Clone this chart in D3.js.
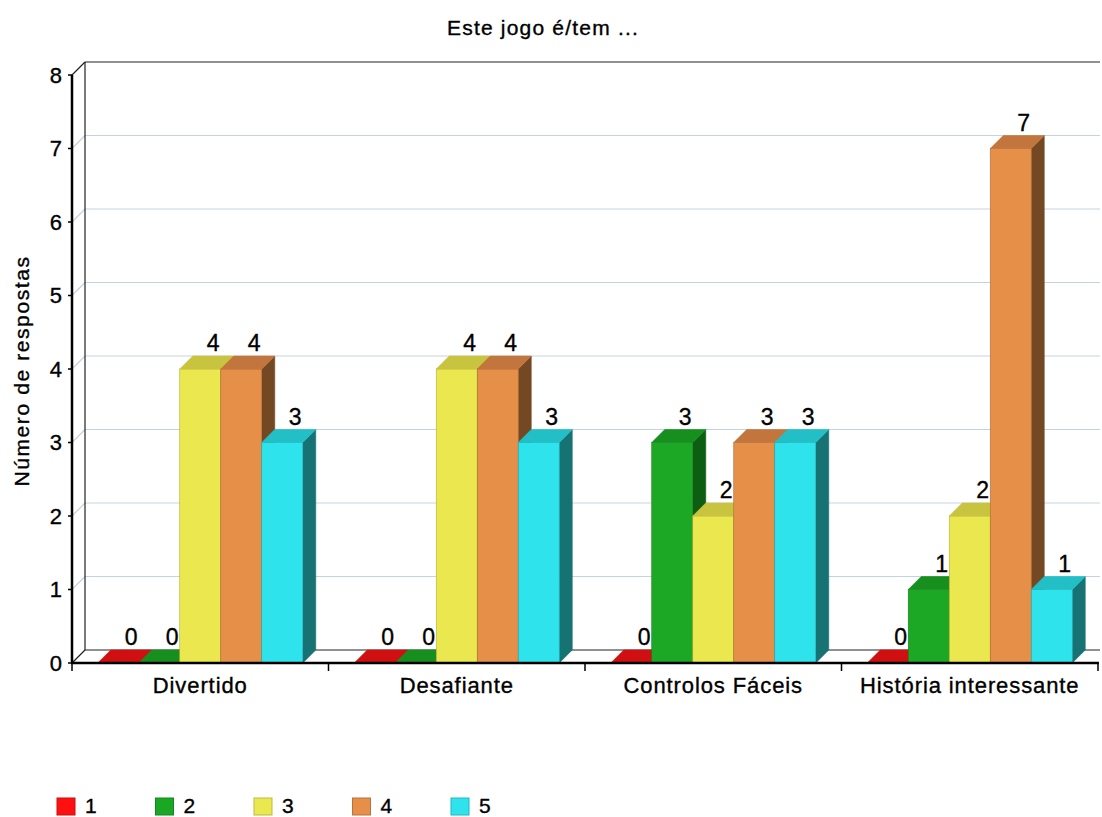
<!DOCTYPE html>
<html><head><meta charset="utf-8">
<script src="https://cdn.jsdelivr.net/npm/d3@7"></script>
<style>body{margin:0;background:#fff}svg{display:block;font-family:"Liberation Sans",Arial,sans-serif}
text{stroke:#000;stroke-width:0.35px}</style>
</head><body>
<svg id="c" width="1102" height="817"></svg>
<script>
const title = "Este jogo é/tem ...";
const yTitle = "Número de respostas";
const categories = ["Divertido", "Desafiante", "Controlos Fáceis", "História interessante"];
const series = ["1", "2", "3", "4", "5"];
const values1 = [0, 0, 0, 0];
const values2 = [0, 0, 3, 1];
const values3 = [4, 4, 2, 2];
const values4 = [4, 4, 3, 7];
const values5 = [3, 3, 3, 1];
const yTicks = [0, 1, 2, 3, 4, 5, 6, 7, 8];
const frontColors = ["#e01212", "#1ca824", "#ebe84f", "#e58f48", "#2ee3eb"];
const topColors = ["#d01010", "#178f1f", "#c9c440", "#c2753c", "#22bfc7"];
const sideColors = ["#8a0a0a", "#0d5e12", "#8d8a2a", "#754824", "#177274"];
const legendColors = ["#ff1010", "#1aa824", "#ebe84f", "#e58f48", "#2ee3eb"];

const allValues = [values1, values2, values3, values4, values5];
const svg = d3.select("#c");
const D = 13;
const y = d3.scaleLinear().domain([0, 8]).range([663, 75]);
const x = d3.scaleBand().domain(categories).range([72, 1098]);
const right = 1100;

svg.append("text").attr("x", 543).attr("y", 35).attr("text-anchor", "middle")
  .attr("font-size", 21).attr("letter-spacing", 1.2).text(title);

yTicks.filter(v => v > 0 && v < 8).forEach(v => {
  svg.append("line").attr("x1", 85).attr("x2", right).attr("y1", y(v) - D).attr("y2", y(v) - D)
    .attr("stroke", "#c5d3e0").attr("stroke-width", 1.2);
  svg.append("line").attr("x1", 72).attr("x2", 85).attr("y1", y(v)).attr("y2", y(v) - D)
    .attr("stroke", "#c5d3e0").attr("stroke-width", 1.2);
});
const frame = [
  [85, y(8) - D, right, y(8) - D],
  [72, y(8), 85, y(8) - D],
  [85, y(8) - D, 85, y(0) - D],
  [85, y(0) - D, right, y(0) - D],
  [72, y(0), 85, y(0) - D]
];
frame.forEach(f => svg.append("line").attr("x1", f[0]).attr("y1", f[1]).attr("x2", f[2]).attr("y2", f[3])
  .attr("stroke", "#222").attr("stroke-width", 1.2));

const inner = d3.scaleBand().domain(series).range([0, 205]);
categories.forEach((cat, ci) => {
  const cx = x(cat) + x.bandwidth() / 2;
  const g = svg.append("g");
  series.forEach((s, si) => {
    const v = allValues[si][ci];
    const bx = cx - 102.5 + inner(s);
    const w = inner.bandwidth();
    const y0 = y(0), yv = y(v);
    g.append("polygon").attr("points", [[bx + w, yv], [bx + w + D, yv - D], [bx + w + D, y0 - D], [bx + w, y0]].join(" "))
      .attr("fill", sideColors[si]).attr("stroke", sideColors[si]).attr("stroke-width", 0.6);
    if (v > 0) g.append("rect").attr("x", bx).attr("y", yv).attr("width", w).attr("height", y0 - yv)
      .attr("fill", frontColors[si]).attr("stroke", d3.color(frontColors[si]).darker(0.8)).attr("stroke-width", 0.6);
    g.append("polygon").attr("points", [[bx, yv], [bx + D, yv - D], [bx + w + D, yv - D], [bx + w, yv]].join(" "))
      .attr("fill", topColors[si]).attr("stroke", topColors[si]).attr("stroke-width", 0.6);
    const lx = bx + w / 2 + D, ly = yv - D - 5;
    g.append("rect").attr("x", lx - 11).attr("y", ly - 19).attr("width", 22).attr("height", 23).attr("fill", "#fff");
    g.append("text").attr("x", lx).attr("y", ly).attr("text-anchor", "middle").attr("font-size", 23)
      .attr("fill", "#000").text(v);
  });
});

svg.append("line").attr("x1", 72).attr("x2", 72).attr("y1", y(8)).attr("y2", y(0)).attr("stroke", "#000").attr("stroke-width", 2.5);
svg.append("line").attr("x1", 71).attr("x2", 1099).attr("y1", y(0)).attr("y2", y(0)).attr("stroke", "#000").attr("stroke-width", 2.5);
yTicks.forEach(v => {
  svg.append("line").attr("x1", 68).attr("x2", 72).attr("y1", y(v)).attr("y2", y(v)).attr("stroke", "#000").attr("stroke-width", 1.5);
  svg.append("text").attr("x", 62).attr("y", y(v)).attr("dy", "0.36em").attr("text-anchor", "end")
    .attr("font-size", 22).text(v);
});
const catTicks = categories.map(c => x(c)).concat([x.range()[1]]);
catTicks.forEach(t => svg.append("line").attr("x1", t).attr("x2", t).attr("y1", y(0)).attr("y2", y(0) + 8)
  .attr("stroke", "#000").attr("stroke-width", 1.5));
categories.forEach(c => svg.append("text").attr("x", x(c) + x.bandwidth() / 2).attr("y", 693)
  .attr("text-anchor", "middle").attr("font-size", 22).attr("letter-spacing", 0.9).text(c));

svg.append("text").attr("transform", "translate(29,371) rotate(-90)").attr("text-anchor", "middle")
  .attr("font-size", 21).attr("letter-spacing", 1.6).text(yTitle);

series.forEach((s, i) => {
  const lx = 57 + i * 98.5;
  svg.append("rect").attr("x", lx).attr("y", 798).attr("width", 18).attr("height", 17)
    .attr("fill", legendColors[i]).attr("stroke", d3.color(legendColors[i]).darker(0.6)).attr("stroke-width", 1);
  svg.append("text").attr("x", lx + 28).attr("y", 813).attr("font-size", 21).text(s);
});
</script>
</body></html>
